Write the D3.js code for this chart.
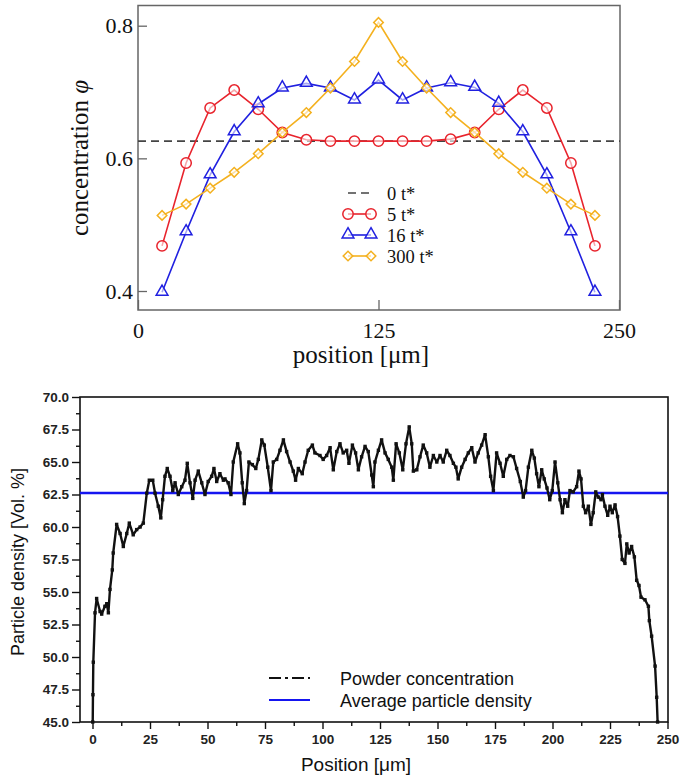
<!DOCTYPE html>
<html>
<head>
<meta charset="utf-8">
<script src="https://cdn.jsdelivr.net/npm/d3@7"></script>
<style>
body { margin: 0; background: #fff; }
</style>
</head>
<body>
<svg id="chart" width="680" height="778"></svg>
<script>
// ---- top panel: simulated profiles ----
var sim_pos = [12.5, 25, 37.5, 50, 62.5, 75, 87.5, 100, 112.5, 125, 137.5, 150, 162.5, 175, 187.5, 200, 212.5, 225, 237.5];
var phi_0 = 0.626;
var phi_5 = [0.468, 0.593, 0.676, 0.703, 0.674, 0.639, 0.628, 0.626, 0.626, 0.626, 0.626, 0.626, 0.629, 0.639, 0.674, 0.703, 0.676, 0.593, 0.468];
var phi_16 = [0.398, 0.489, 0.575, 0.640, 0.682, 0.706, 0.713, 0.706, 0.688, 0.718, 0.688, 0.706, 0.714, 0.707, 0.683, 0.640, 0.575, 0.489, 0.398];
var phi_300 = [0.514, 0.531, 0.555, 0.579, 0.607, 0.639, 0.669, 0.706, 0.746, 0.805, 0.746, 0.706, 0.669, 0.639, 0.607, 0.579, 0.555, 0.531, 0.514];
var top_legend = ['0 t*', '5 t*', '16 t*', '300 t*'];
var top_xticks = [0, 125, 250];
var top_yticks = [0.4, 0.6, 0.8];

// ---- bottom panel: measured powder concentration ----
var meas_pos = [0.1, 0.2, 0.35, 1.1, 1.8, 3.3, 4.0, 5.4, 6.2, 6.9, 7.6, 8.6, 9.0, 10.5, 12.0, 13.4, 14.9, 16.0, 17.7, 19.2,
	20.7, 22.1, 23.6, 24.7, 26.2, 27.2, 28.6, 29.7, 30.5, 31.5, 32.5, 33.7, 34.9, 35.9, 37.3, 38.8, 40.2, 41.2, 42.4, 43.6,
	44.6, 46.0, 47.5, 48.9, 50.3, 51.8, 52.8, 54.0, 55.4, 56.9, 57.6, 59.0, 60.2, 61.2, 63.1, 64.1, 65.1, 66.0, 67.0, 68.0,
	69.5, 71.0, 72.1, 73.6, 74.7, 76.2, 77.6, 78.6, 80.1, 81.5, 83.0, 84.4, 85.9, 87.3, 88.3, 89.5, 91.2, 92.4, 93.8, 95.6,
	96.7, 98.9, 100.3, 101.8, 103.3, 104.7, 106.2, 107.6, 109.0, 110.5, 111.5, 113.0, 114.4, 115.6, 117.0, 118.5, 119.9, 121.4, 122.1, 122.8,
	124.3, 125.7, 127.2, 128.6, 130.1, 130.8, 132.0, 133.4, 134.9, 136.3, 137.7, 138.8, 139.5, 141.0, 142.4, 143.8, 145.3, 146.7, 148.2, 149.7,
	151.1, 152.5, 154.0, 155.4, 156.9, 158.0, 159.0, 160.5, 162.0, 163.4, 164.9, 166.3, 167.7, 169.2, 170.7, 172.1, 173.1, 174.3, 175.7, 177.2,
	178.6, 180.1, 181.5, 183.0, 184.4, 186.0, 187.3, 188.3, 189.5, 191.0, 192.1, 193.1, 194.1, 195.3, 196.4, 197.6, 198.8, 199.9, 201.1, 202.3,
	203.3, 204.3, 205.4, 206.6, 207.6, 209.0, 210.5, 211.5, 212.4, 213.4, 214.4, 215.6, 216.7, 217.7, 218.8, 219.9, 221.1, 221.7, 222.8, 224.0,
	225.0, 226.0, 227.2, 228.3, 229.3, 230.3, 231.5, 232.3, 233.3, 234.4, 235.6, 236.6, 237.6, 238.5, 240.2, 241.7, 242.1, 243.1, 244.6, 245.3, 245.7];
var meas_density = [45.0, 47.1, 49.6, 53.4, 54.5, 53.5, 53.3, 53.9, 54.1, 53.4, 55.2, 56.7, 58.0, 60.2, 59.5, 58.5, 59.5, 60.3, 59.4, 59.8,
	60.0, 60.3, 62.6, 63.6, 63.6, 62.6, 61.6, 60.7, 62.1, 63.9, 64.5, 63.9, 62.8, 63.4, 62.5, 63.1, 63.6, 64.9, 63.4, 62.2,
	63.6, 64.3, 63.4, 62.5, 63.5, 63.9, 64.5, 63.5, 64.1, 63.6, 63.7, 63.4, 62.5, 65.0, 66.4, 65.7, 63.4, 61.8, 62.8, 65.0,
	64.8, 64.5, 65.2, 66.7, 66.3, 64.6, 62.8, 65.0, 65.2, 65.9, 66.7, 65.8, 65.0, 64.3, 63.6, 64.5, 64.1, 65.0, 65.9, 66.3,
	65.7, 65.5, 65.2, 65.5, 66.1, 64.4, 65.8, 66.4, 65.7, 65.9, 64.9, 66.3, 65.7, 64.4, 65.4, 66.2, 65.8, 64.0, 63.1, 65.0,
	65.9, 66.7, 65.7, 65.2, 64.6, 63.6, 66.4, 65.7, 64.4, 66.4, 67.7, 66.4, 64.3, 64.4, 65.4, 66.3, 65.7, 64.6, 65.5, 65.0,
	65.5, 65.0, 65.9, 65.5, 64.9, 64.6, 63.7, 64.6, 65.2, 65.7, 66.1, 65.0, 65.7, 66.3, 67.1, 65.4, 63.9, 62.8, 65.7, 64.9,
	63.9, 65.2, 65.5, 65.4, 64.5, 63.5, 62.3, 62.8, 64.6, 65.9, 65.3, 64.1, 63.1, 64.4, 63.7, 63.0, 62.1, 62.8, 65.0, 63.4,
	62.1, 61.1, 62.1, 61.6, 62.8, 62.7, 63.1, 64.3, 63.7, 61.6, 61.1, 61.6, 60.2, 61.1, 62.7, 62.3, 62.1, 62.5, 61.6, 60.9,
	61.6, 61.1, 61.7, 60.8, 59.3, 57.5, 57.2, 58.7, 58.0, 58.5, 57.7, 55.9, 55.5, 54.6, 54.4, 53.9, 52.8, 51.6, 49.3, 46.9, 45.0];
var avg_density = 62.62;
var bot_legend = ['Powder concentration', 'Average particle density'];
var bot_xticks = [0, 25, 50, 75, 100, 125, 150, 175, 200, 225, 250];
var bot_yticks = [45, 47.5, 50, 52.5, 55, 57.5, 60, 62.5, 65, 67.5, 70];

var svg = d3.select('#chart');
var serif = '"Liberation Serif", "Times New Roman", serif';
var sans = '"Liberation Sans", Arial, sans-serif';

// ================= top panel =================
var tx = d3.scaleLinear().domain([0, 250]).range([138, 619]);
var ty = d3.scaleLinear().domain([0.4, 0.8]).range([291, 25.7]);
var top_frame = {x0: 138, x1: 620, y0: 5.5, y1: 310};

var top_g = svg.append('g');

top_g.append('rect')
	.attr('x', top_frame.x0).attr('y', top_frame.y0)
	.attr('width', top_frame.x1 - top_frame.x0).attr('height', top_frame.y1 - top_frame.y0)
	.attr('fill', 'none').attr('stroke', '#666').attr('stroke-width', 1.5);

var t_yaxis = top_g.append('g')
	.attr('transform', 'translate(' + top_frame.x0 + ',0)')
	.call(d3.axisLeft(ty).tickValues(top_yticks).tickSize(-9).tickPadding(5).tickFormat(d3.format('.1f')));
var t_xaxis = top_g.append('g')
	.attr('transform', 'translate(0,' + top_frame.y1 + ')')
	.call(d3.axisBottom(tx).tickValues(top_xticks).tickSize(-10).tickPadding(8).tickFormat(d3.format('d')));
[t_yaxis, t_xaxis].forEach(function(a) {
	a.select('.domain').remove();
	a.selectAll('line').attr('stroke', '#666').attr('stroke-width', 1.3);
	a.selectAll('text').attr('font-family', serif).attr('font-size', 22).attr('fill', '#111');
});
t_xaxis.selectAll('text').attr('dy', '0.9em');

top_g.append('text')
	.attr('transform', 'translate(88,158) rotate(-90)')
	.attr('text-anchor', 'middle')
	.attr('font-family', serif).attr('font-size', 25).attr('fill', '#111')
	.text('concentration ')
	.append('tspan').attr('font-style', 'italic').text('φ');
top_g.append('text')
	.attr('x', 361).attr('y', 363)
	.attr('text-anchor', 'middle')
	.attr('font-family', serif).attr('font-size', 25).attr('fill', '#111')
	.text('position [μm]');

// 0 t* reference line
top_g.append('line')
	.attr('x1', top_frame.x0).attr('x2', top_frame.x1)
	.attr('y1', ty(phi_0)).attr('y2', ty(phi_0))
	.attr('stroke', '#444').attr('stroke-width', 1.6).attr('stroke-dasharray', '8,5');

var series = [
	{vals: phi_5, color: '#e8232c', sym: 'circle'},
	{vals: phi_16, color: '#2020e0', sym: 'triangle'},
	{vals: phi_300, color: '#f4b11f', sym: 'diamond'}
];

function marker(sel, sym, color) {
	if (sym == 'circle') {
		sel.append('circle').attr('r', 5.2);
	} else if (sym == 'triangle') {
		sel.append('path').attr('d', d3.symbol().type(d3.symbolTriangle).size(60)()).attr('transform', 'translate(0,-0.5)');
	} else {
		sel.append('path').attr('d', d3.symbol().type(d3.symbolSquare).size(46)()).attr('transform', 'rotate(45)');
	}
	sel.selectAll('circle,path').attr('fill', '#fff').attr('fill-opacity', 0.6).attr('stroke', color).attr('stroke-width', 1.5);
}

var line_top = d3.line().x(function(d) { return tx(d[0]); }).y(function(d) { return ty(d[1]); });
series.forEach(function(s) {
	var pts = sim_pos.map(function(p, i) { return [p, s.vals[i]]; });
	top_g.append('path').attr('d', line_top(pts))
		.attr('fill', 'none').attr('stroke', s.color).attr('stroke-width', 1.6);
	top_g.selectAll(null).data(pts).enter().append('g')
		.attr('transform', function(d) { return 'translate(' + tx(d[0]) + ',' + ty(d[1]) + ')'; })
		.each(function() { marker(d3.select(this), s.sym, s.color); });
});

// top legend
var tleg = top_g.append('g');
var tleg_y = [193, 214, 235, 256];
tleg.append('line').attr('x1', 348).attr('x2', 372).attr('y1', tleg_y[0]).attr('y2', tleg_y[0])
	.attr('stroke', '#444').attr('stroke-width', 1.6).attr('stroke-dasharray', '8,5');
series.forEach(function(s, i) {
	var yy = tleg_y[i + 1];
	tleg.append('line').attr('x1', 348).attr('x2', 371).attr('y1', yy).attr('y2', yy)
		.attr('stroke', s.color).attr('stroke-width', 1.6);
	[348, 371].forEach(function(xx) {
		var g = tleg.append('g').attr('transform', 'translate(' + xx + ',' + yy + ')');
		marker(g, s.sym, s.color);
	});
});
tleg.selectAll('text.lab').data(top_legend).enter().append('text')
	.attr('x', 387).attr('y', function(d, i) { return tleg_y[i] + 7; })
	.attr('font-family', serif).attr('font-size', 18.5).attr('fill', '#111')
	.text(function(d) { return d; });

// ================= bottom panel =================
var bx = d3.scaleLinear().domain([0, 250]).range([92.5, 667.5]);
var by = d3.scaleLinear().domain([45, 70]).range([722, 397]);
var bot_frame = {x0: 80, x1: 668, y0: 397, y1: 722};

var bot_g = svg.append('g');

var minor_x = d3.range(12.5, 250, 25);
var minor_y = d3.range(46.25, 70, 2.5);

var b_yaxis = bot_g.append('g').attr('transform', 'translate(' + bot_frame.x0 + ',0)')
	.call(d3.axisLeft(by).tickValues(bot_yticks).tickSize(8).tickPadding(3).tickFormat(d3.format('.1f')));
var b_yminor = bot_g.append('g').attr('transform', 'translate(' + bot_frame.x0 + ',0)')
	.call(d3.axisLeft(by).tickValues(minor_y).tickSize(4).tickFormat(''));
var b_xaxis = bot_g.append('g').attr('transform', 'translate(0,' + bot_frame.y1 + ')')
	.call(d3.axisBottom(bx).tickValues(bot_xticks).tickSize(7).tickPadding(5).tickFormat(d3.format('d')));
var b_xminor = bot_g.append('g').attr('transform', 'translate(0,' + bot_frame.y1 + ')')
	.call(d3.axisBottom(bx).tickValues(minor_x).tickSize(4).tickFormat(''));
[b_yaxis, b_yminor, b_xaxis, b_xminor].forEach(function(a) {
	a.select('.domain').remove();
	a.selectAll('line').attr('stroke', '#111').attr('stroke-width', 1.4);
	a.selectAll('text').attr('font-family', sans).attr('font-size', 13.5).attr('font-weight', 'bold').attr('fill', '#222');
});

bot_g.append('rect')
	.attr('x', bot_frame.x0).attr('y', bot_frame.y0)
	.attr('width', bot_frame.x1 - bot_frame.x0).attr('height', bot_frame.y1 - bot_frame.y0)
	.attr('fill', 'none').attr('stroke', '#111').attr('stroke-width', 1.6);

bot_g.append('text')
	.attr('transform', 'translate(24,562) rotate(-90)')
	.attr('text-anchor', 'middle')
	.attr('font-family', sans).attr('font-size', 18).attr('fill', '#111')
	.text('Particle density [Vol. %]');
bot_g.append('text')
	.attr('x', 356).attr('y', 771)
	.attr('text-anchor', 'middle')
	.attr('font-family', sans).attr('font-size', 19).attr('fill', '#111')
	.text('Position [μm]');

// average density
bot_g.append('line')
	.attr('x1', bot_frame.x0).attr('x2', bot_frame.x1)
	.attr('y1', by(avg_density)).attr('y2', by(avg_density))
	.attr('stroke', '#1515f0').attr('stroke-width', 2.6);

// measured curve
var meas = meas_pos.map(function(p, i) { return [p, meas_density[i]]; });
var line_bot = d3.line().x(function(d) { return bx(d[0]); }).y(function(d) { return by(d[1]); });
bot_g.append('path').attr('d', line_bot(meas))
	.attr('fill', 'none').attr('stroke', '#111').attr('stroke-width', 2.4).attr('stroke-linejoin', 'round');
bot_g.selectAll('rect.pt').data(meas).enter().append('rect')
	.attr('class', 'pt')
	.attr('x', function(d) { return bx(d[0]) - 1.7; })
	.attr('y', function(d) { return by(d[1]) - 1.7; })
	.attr('width', 3.4).attr('height', 3.4)
	.attr('fill', '#111');

// bottom legend
var bleg_y = [678, 700];
bot_g.append('line').attr('x1', 269).attr('x2', 310).attr('y1', bleg_y[0]).attr('y2', bleg_y[0])
	.attr('stroke', '#111').attr('stroke-width', 2.2).attr('stroke-dasharray', '12,4,3,4');
bot_g.append('line').attr('x1', 269).attr('x2', 310).attr('y1', bleg_y[1]).attr('y2', bleg_y[1])
	.attr('stroke', '#1515f0').attr('stroke-width', 1.8);
bot_g.selectAll('text.bl').data(bot_legend).enter().append('text')
	.attr('x', 340).attr('y', function(d, i) { return bleg_y[i] + 7; })
	.attr('font-family', sans).attr('font-size', 18).attr('fill', '#111')
	.text(function(d) { return d; });
</script>
</body>
</html>
